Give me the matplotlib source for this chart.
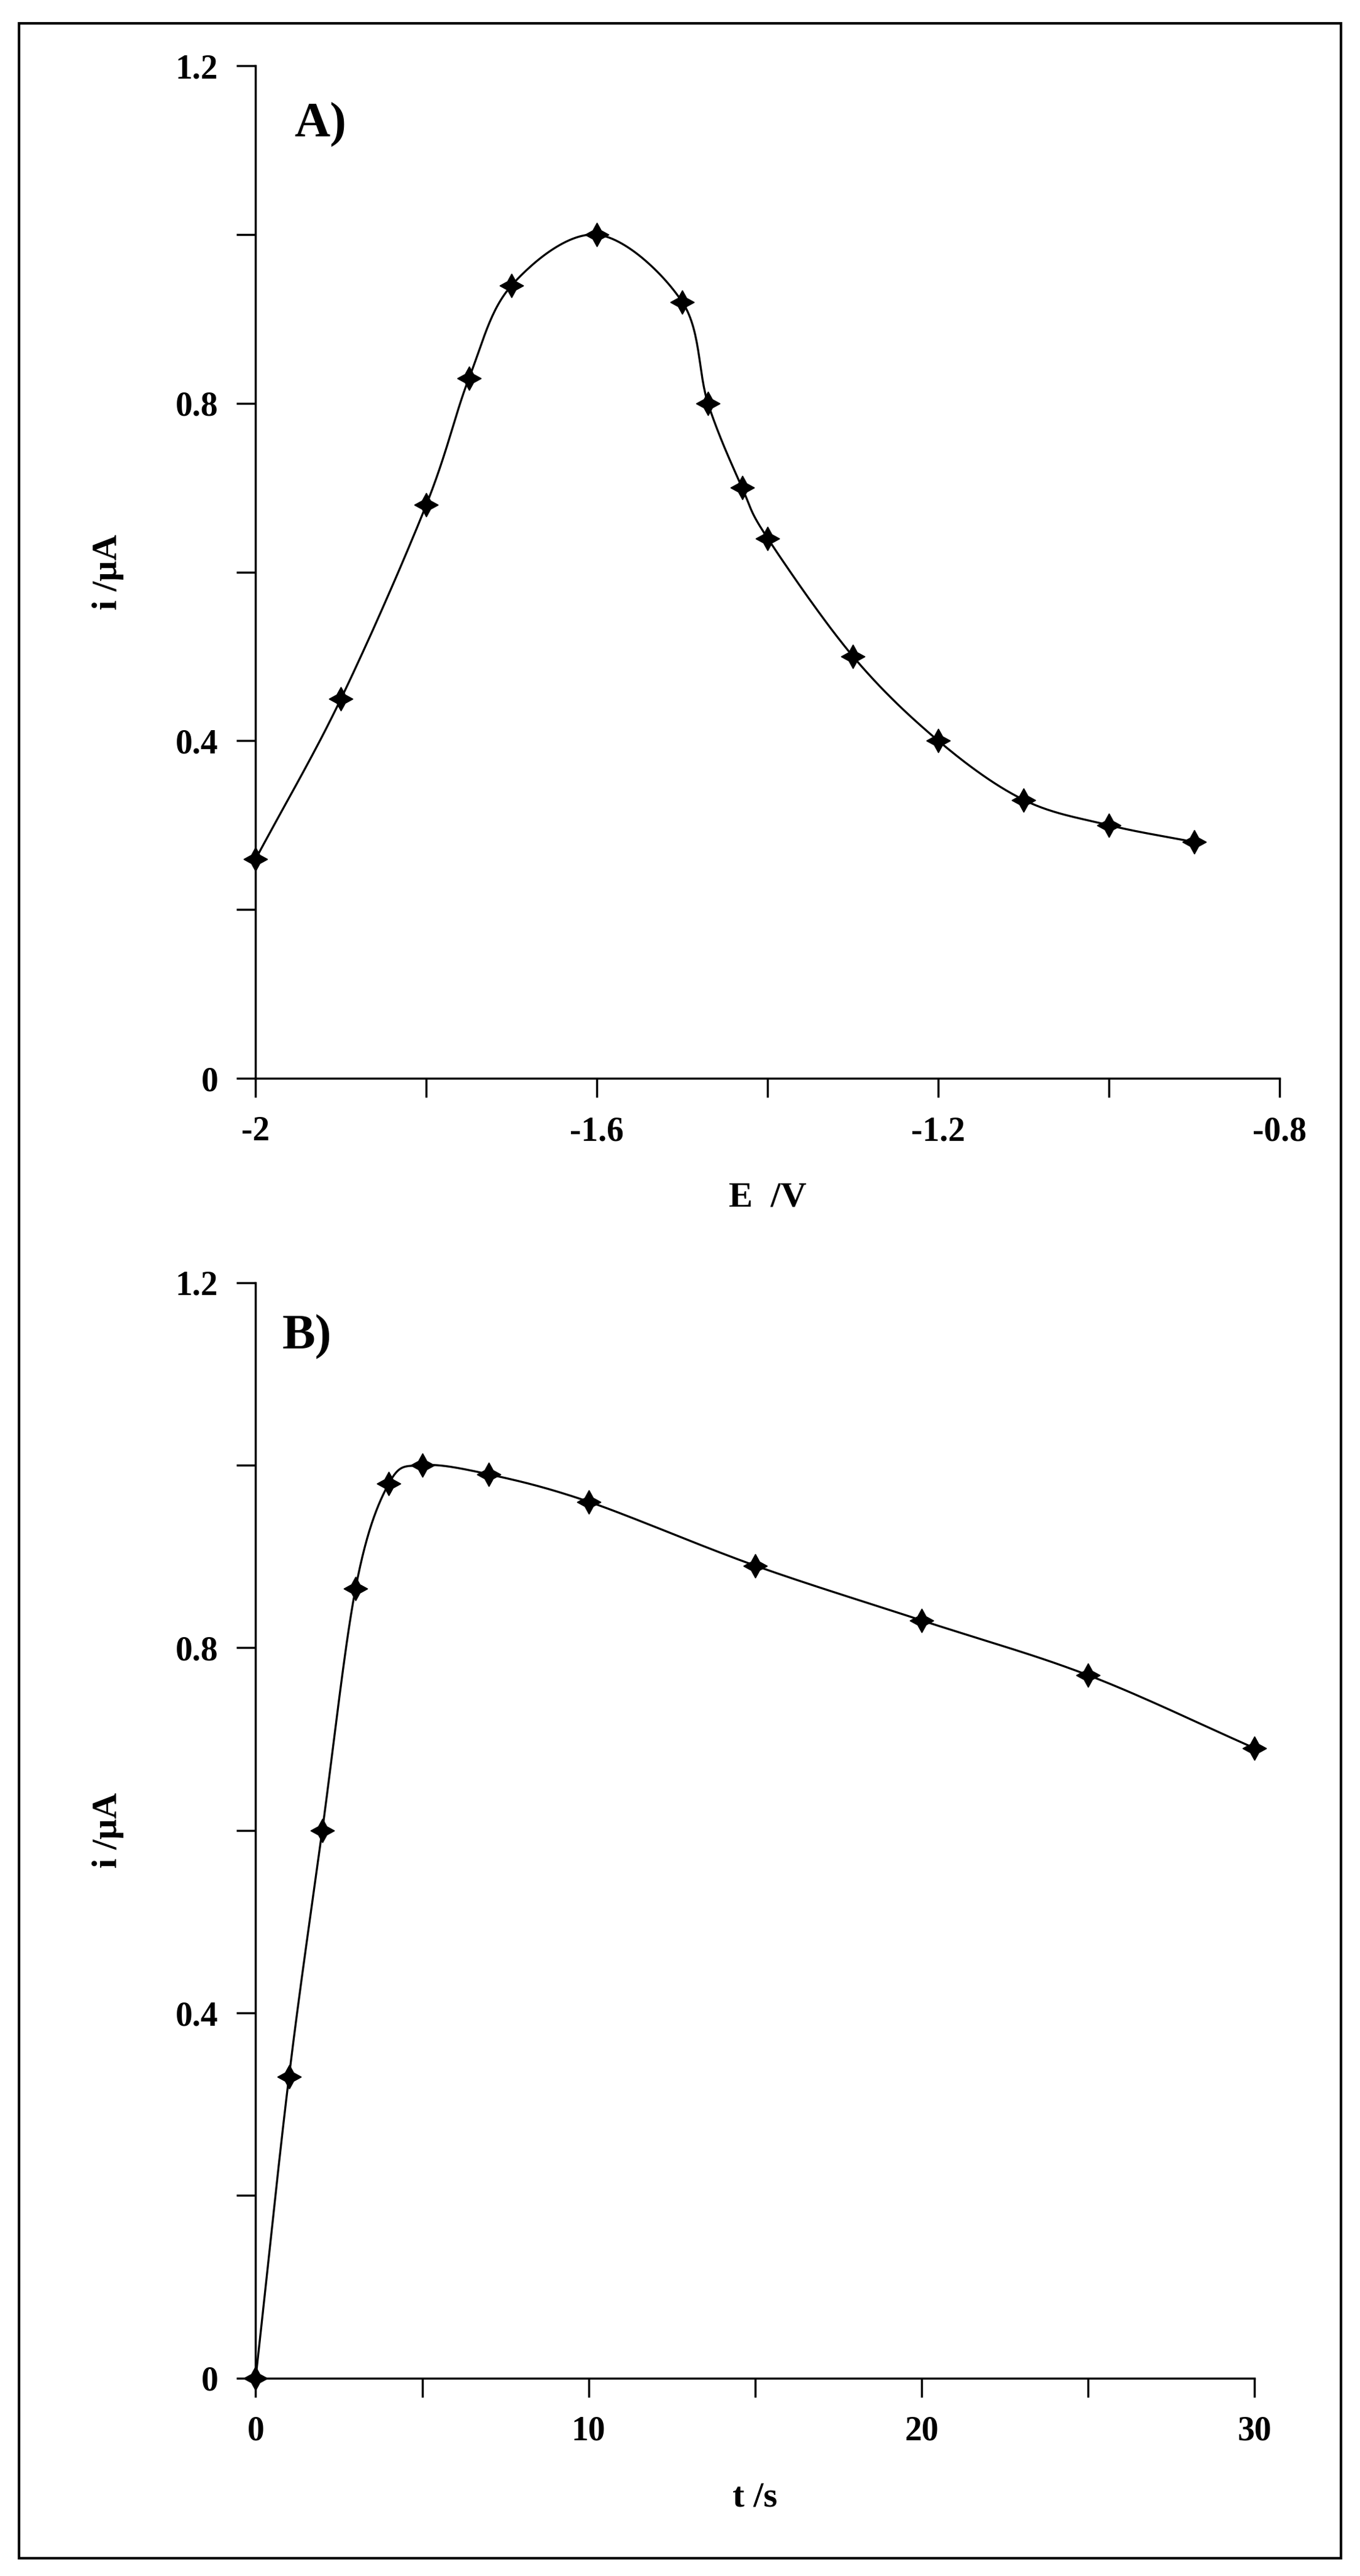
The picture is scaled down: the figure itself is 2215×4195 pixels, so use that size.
import numpy as np
import matplotlib.pyplot as plt
from matplotlib.patches import Rectangle

plt.rcParams['font.family'] = ['Liberation Serif', 'DejaVu Serif']
plt.rcParams['font.weight'] = 'bold'

# Panel A: current vs deposition potential
potential = [-2.0, -1.9, -1.8, -1.75, -1.7, -1.6, -1.5, -1.47, -1.43, -1.4, -1.3, -1.2, -1.1, -1.0, -0.9]
current_a = [0.26, 0.45, 0.68, 0.83, 0.94, 1.00, 0.92, 0.80, 0.70, 0.64, 0.50, 0.40, 0.33, 0.30, 0.28]

# Panel B: current vs deposition time
time_s = [0, 1, 2, 3, 4, 5, 7, 10, 15, 20, 25, 30]
current_b = [0.0, 0.33, 0.60, 0.865, 0.98, 1.00, 0.99, 0.96, 0.89, 0.83, 0.77, 0.69]


def smooth(x, y, n=30):
    # Catmull-Rom through the points, only for drawing the connecting curve
    x = np.asarray(x, float)
    y = np.asarray(y, float)
    px = np.concatenate([[2 * x[0] - x[1]], x, [2 * x[-1] - x[-2]]])
    py = np.concatenate([[2 * y[0] - y[1]], y, [2 * y[-1] - y[-2]]])
    xs, ys = [], []
    t = np.linspace(0, 1, n)
    for i in range(1, len(px) - 2):
        for p, out in ((px, xs), (py, ys)):
            p0, p1, p2, p3 = p[i - 1], p[i], p[i + 1], p[i + 2]
            out.extend(0.5 * (2 * p1 + (-p0 + p2) * t + (2 * p0 - 5 * p1 + 4 * p2 - p3) * t ** 2
                              + (-p0 + 3 * p1 - 3 * p2 + p3) * t ** 3))
    return xs, ys


def style(ax):
    for s in ('top', 'right'):
        ax.spines[s].set_visible(False)
    for s in ('left', 'bottom'):
        ax.spines[s].set_linewidth(2.5)
    ax.tick_params(which='both', direction='out', width=2.5, labelsize=40, pad=22)
    ax.tick_params(which='major', length=22)
    ax.tick_params(which='minor', length=22)
    ax.set_ylim(0, 1.2)
    ax.set_yticks([0, 0.4, 0.8, 1.2])
    ax.set_yticklabels(['0', '0.4', '0.8', '1.2'])
    ax.set_yticks([0.2, 0.6, 1.0], minor=True)


fig = plt.figure(figsize=(22.15, 41.95), dpi=100)
fig.patches.append(Rectangle((0.014, 0.007), 0.972, 0.984, transform=fig.transFigure,
                             fill=False, lw=3, ec='black'))

star = (4, 1, 0)

ax1 = fig.add_axes([0.188, 0.5814, 0.753, 0.393])
sx, sy = smooth(potential, current_a)
ax1.plot(sx, sy, color='black', lw=2.4, clip_on=False)
ax1.plot(potential, current_a, ls='none', marker=star, ms=28, color='black', clip_on=False)
style(ax1)
ax1.set_xlim(-2, -0.8)
ax1.set_xticks([-2, -1.6, -1.2, -0.8])
ax1.set_xticklabels(['-2', '-1.6', '-1.2', '-0.8'])
ax1.set_xticks([-1.8, -1.4, -1.0], minor=True)
ax1.set_xlabel('E  /V', fontsize=42, fontweight='bold', labelpad=40)
ax1.set_ylabel('i /µA', fontsize=42, fontweight='bold', labelpad=60)
ax1.text(-1.955, 1.13, 'A)', fontsize=58, fontweight='bold', va='center')

ax2 = fig.add_axes([0.188, 0.0768, 0.7345, 0.4253])
sx, sy = smooth(time_s, current_b)
ax2.plot(sx, sy, color='black', lw=2.4, clip_on=False)
ax2.plot(time_s, current_b, ls='none', marker=star, ms=28, color='black', clip_on=False)
style(ax2)
ax2.set_xlim(0, 30)
ax2.set_xticks([0, 10, 20, 30])
ax2.set_xticks([5, 15, 25], minor=True)
ax2.set_xlabel('t /s', fontsize=42, fontweight='bold', labelpad=40)
ax2.set_ylabel('i /µA', fontsize=42, fontweight='bold', labelpad=60)
ax2.text(0.8, 1.14, 'B)', fontsize=58, fontweight='bold', va='center')

fig.savefig('out.png', dpi=100)
